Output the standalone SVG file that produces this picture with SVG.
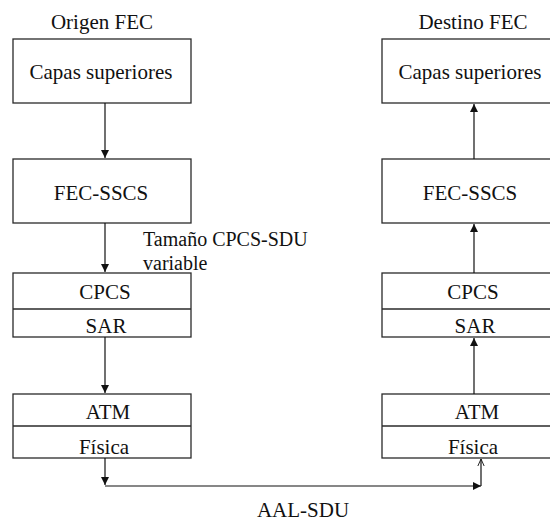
<svg xmlns="http://www.w3.org/2000/svg" width="550" height="523" viewBox="0 0 550 523">
  <style>
    .box { fill: #ffffff; stroke: #2a2a2a; stroke-width: 1.3; }
    .div { stroke: #2a2a2a; stroke-width: 1.3; }
    .wire { fill: none; stroke: #111; stroke-width: 1.2; }
  </style>
  <defs>
    <marker id="arrow" viewBox="0 0 10 10" refX="10" refY="5" markerWidth="8" markerHeight="8" markerUnits="userSpaceOnUse" orient="auto">
      <path d="M0,0 L10,5 L0,10 Z" fill="#111"/>
    </marker>
    <marker id="open" viewBox="0 0 10 10" refX="10" refY="5" markerWidth="7" markerHeight="8" markerUnits="userSpaceOnUse" orient="auto">
      <path d="M0,0.5 L10,5 L0,9.5" fill="none" stroke="#111" stroke-width="1.3"/>
    </marker>
  </defs>

  <g font-family="Liberation Serif, Times New Roman, serif" font-size="21" fill="#111" text-anchor="middle">
    <!-- column titles -->
    <text x="102" y="29">Origen FEC</text>
    <text x="473" y="29">Destino FEC</text>

    <!-- source stack -->
    <g id="src-upper">
      <rect class="box" x="13" y="39" width="178" height="64"/>
      <text x="101" y="79">Capas superiores</text>
    </g>
    <g id="src-fec-sscs">
      <rect class="box" x="13" y="159" width="178" height="64"/>
      <text x="101" y="200">FEC-SSCS</text>
    </g>
    <g id="src-cpcs-sar">
      <rect class="box" x="13" y="273" width="178" height="64"/>
      <line class="div" x1="13" y1="309" x2="191" y2="309"/>
      <text x="105" y="299">CPCS</text>
      <text x="106" y="333">SAR</text>
    </g>
    <g id="src-atm-phy">
      <rect class="box" x="13" y="394" width="178" height="64"/>
      <line class="div" x1="13" y1="426" x2="191" y2="426"/>
      <text x="108" y="419">ATM</text>
      <text x="104" y="454">Física</text>
    </g>

    <!-- destination stack -->
    <g id="dst-upper">
      <rect class="box" x="382" y="39" width="178" height="64"/>
      <text x="470" y="79">Capas superiores</text>
    </g>
    <g id="dst-fec-sscs">
      <rect class="box" x="382" y="159" width="178" height="64"/>
      <text x="470" y="200">FEC-SSCS</text>
    </g>
    <g id="dst-cpcs-sar">
      <rect class="box" x="382" y="273" width="178" height="64"/>
      <line class="div" x1="382" y1="309" x2="560" y2="309"/>
      <text x="473" y="299">CPCS</text>
      <text x="475" y="333">SAR</text>
    </g>
    <g id="dst-atm-phy">
      <rect class="box" x="382" y="394" width="178" height="64"/>
      <line class="div" x1="382" y1="426" x2="560" y2="426"/>
      <text x="477" y="419">ATM</text>
      <text x="473" y="454">Física</text>
    </g>

    <!-- connectors -->
    <g id="connectors">
      <line class="wire" x1="105" y1="103" x2="105" y2="158" marker-end="url(#arrow)"/>
      <line class="wire" x1="105" y1="223" x2="105" y2="272" marker-end="url(#arrow)"/>
      <line class="wire" x1="105" y1="337" x2="105" y2="393" marker-end="url(#arrow)"/>
      <line class="wire" x1="105" y1="458" x2="105" y2="485" marker-end="url(#arrow)"/>
      <line class="wire" x1="105" y1="486" x2="481" y2="486" marker-end="url(#arrow)"/>
      <line class="wire" x1="481" y1="486" x2="481" y2="459" marker-end="url(#open)"/>
      <line class="wire" x1="474" y1="394" x2="474" y2="338" marker-end="url(#arrow)"/>
      <line class="wire" x1="474" y1="273" x2="474" y2="224" marker-end="url(#arrow)"/>
      <line class="wire" x1="474" y1="159" x2="474" y2="104" marker-end="url(#arrow)"/>
      <text x="143" y="246" font-size="20" text-anchor="start">Tamaño CPCS-SDU</text>
      <text x="143" y="270" font-size="20" text-anchor="start">variable</text>
      <text x="303" y="517">AAL-SDU</text>
    </g>
  </g>
</svg>
